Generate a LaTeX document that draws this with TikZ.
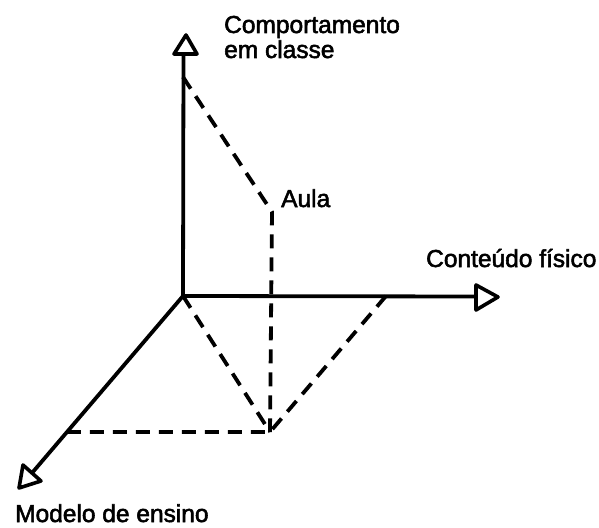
\documentclass[tikz,border=0pt]{standalone}
\usepackage{fontspec}
\setmainfont[FakeBold=2.2]{Liberation Sans}
\begin{document}
\begin{tikzpicture}[x=1pt,y=-1pt,
  axis/.style={line width=3.8pt},
  tip/.style={line width=3.6pt,line join=round},
  guide/.style={line width=3.8pt,dash pattern=on 14pt off 9pt},
  lbl/.style={anchor=base west,inner sep=0pt,font=\fontsize{24.5}{25}\selectfont}]
\useasboundingbox (0,0) rectangle (599,527);
\coordinate (O) at (183,296);
\coordinate (Vb) at (183.5,54);
\coordinate (Hb) at (476,296.5);
\coordinate (Db) at (32,473);
\coordinate (V1) at (183,77);
\coordinate (A) at (272,212);
\coordinate (B) at (270,432);
\coordinate (C) at (386,296);
\coordinate (D) at (66.6,432);
\draw[axis] (O) -- (Vb);
\draw[axis] (O) -- (Hb);
\draw[axis] (O) -- (Db);
\draw[tip] (186,35) -- (174,54) -- (197,54) -- cycle;
\draw[tip] (476,285) -- (498,297) -- (476,310) -- cycle;
\draw[tip] (23,465) -- (19,488) -- (41,481) -- cycle;
\draw[guide] (V1) -- (A) -- (B);
\draw[guide] (O) -- (B);
\draw[guide] (C) -- (B) -- (D);
\node[lbl] (comp) at (224,33) {Comportamento};
\node[lbl] (classe) at (224,58) {em classe};
\node[lbl] (aula) at (281,207) {Aula};
\node[lbl] (cont) at (426,267) {Conteúdo físico};
\node[lbl] (mod) at (15,522) {Modelo de ensino};
\end{tikzpicture}
\end{document}
